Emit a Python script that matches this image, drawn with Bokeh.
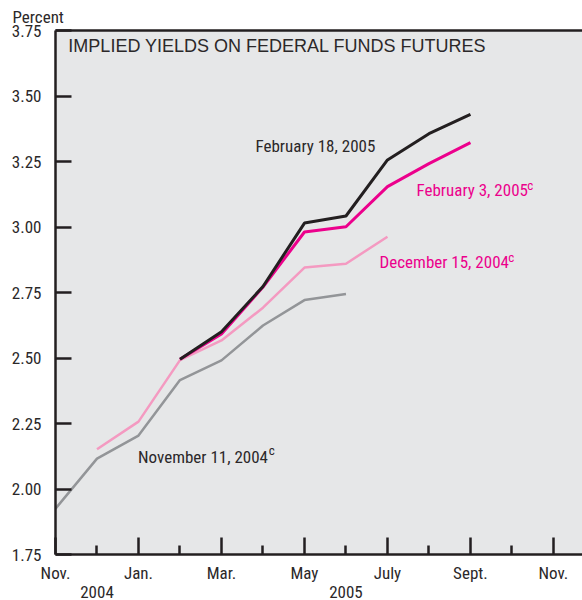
from bokeh.plotting import figure
from bokeh.models import LinearAxis, FixedTicker, Range1d, Label, Title
from bokeh.embed import file_html
from bokeh.resources import INLINE

# ---- data ----
tick_labels = ["Nov.", "", "Jan.", "", "Mar.", "", "May", "", "July", "", "Sept.", "", "Nov."]
year_labels = {1: "2004", 7: "2005"}
y_ticks = [1.75, 2.00, 2.25, 2.50, 2.75, 3.00, 3.25, 3.50, 3.75]

nov11_x = [0, 1, 2, 3, 4, 5, 6, 7]
nov11_y = [1.925, 2.116, 2.204, 2.416, 2.491, 2.624, 2.721, 2.744]

dec15_x = [1, 2, 3, 4, 5, 6, 7, 8]
dec15_y = [2.152, 2.257, 2.492, 2.567, 2.692, 2.845, 2.860, 2.963]

feb3_x = [3, 4, 5, 6, 7, 8, 9, 10]
feb3_y = [2.495, 2.592, 2.771, 2.981, 3.001, 3.154, 3.242, 3.322]

feb18_x = [3, 4, 5, 6, 7, 8, 9, 10]
feb18_y = [2.495, 2.600, 2.773, 3.015, 3.042, 3.256, 3.356, 3.430]

# ---- styles ----
BG = "#e6e7e8"
DARK = "#231f20"
TXT = "#2b2829"
MAGENTA = "#ec008c"
PINK = "#f49ac1"
GRAY = "#939598"
COND = "Roboto Condensed"

p = figure(width=582, height=600, output_backend="svg", toolbar_location=None,
           x_range=Range1d(0, 12.7), y_range=Range1d(1.75, 3.75),
           x_axis_type=None, y_axis_type=None,
           min_border_left=55, min_border_right=0, min_border_top=30, min_border_bottom=46,
           background_fill_color=BG, border_fill_color="white",
           outline_line_color=None)

p.title = Title(text="Percent", align="left", offset=-43, standoff=8,
                text_font=COND, text_font_size="17px", text_font_style="normal",
                text_color=TXT)

# y axis
yax = LinearAxis(ticker=FixedTicker(ticks=y_ticks))
yax.major_label_overrides = {t: f"{t:.2f}" for t in y_ticks}
yax.axis_line_color = DARK
yax.axis_line_width = 2.5
yax.major_tick_line_color = DARK
yax.major_tick_line_width = 2.5
yax.major_tick_in = 16
yax.major_tick_out = 0
yax.minor_tick_line_color = None
yax.major_label_standoff = 14
yax.major_label_text_font = COND
yax.major_label_text_font_size = "17px"
yax.major_label_text_color = TXT
p.add_layout(yax, "left")

# x axis (months)
major = list(range(0, 13, 2))
minor = list(range(1, 12, 2))
xax = LinearAxis(ticker=FixedTicker(ticks=major, minor_ticks=minor))
xax.major_label_overrides = {i: tick_labels[i] for i in major}
xax.axis_line_color = DARK
xax.axis_line_width = 2.5
xax.major_tick_line_color = DARK
xax.major_tick_line_width = 2.5
xax.major_tick_in = 17
xax.major_tick_out = 0
xax.minor_tick_line_color = DARK
xax.minor_tick_line_width = 2.5
xax.minor_tick_in = 9
xax.minor_tick_out = 0
xax.major_label_standoff = 8
xax.major_label_text_font = COND
xax.major_label_text_font_size = "17px"
xax.major_label_text_color = TXT
p.add_layout(xax, "below")

# year row
yrax = LinearAxis(ticker=FixedTicker(ticks=list(year_labels.keys())))
yrax.major_label_overrides = year_labels
yrax.axis_line_color = None
yrax.major_tick_line_color = None
yrax.minor_tick_line_color = None
yrax.major_tick_in = 0
yrax.major_tick_out = 0
yrax.major_label_standoff = 0
yrax.major_label_text_font = COND
yrax.major_label_text_font_size = "17px"
yrax.major_label_text_color = TXT
p.add_layout(yrax, "below")

# top frame line
tax = LinearAxis(ticker=FixedTicker(ticks=[]))
tax.axis_line_color = DARK
tax.axis_line_width = 2.5
tax.major_tick_line_color = None
tax.minor_tick_line_color = None
tax.major_label_text_font_size = "0px"
tax.major_label_standoff = 0
tax.major_tick_out = 0
tax.major_tick_in = 0
p.add_layout(tax, "above")

# grid
p.ygrid.ticker = FixedTicker(ticks=y_ticks)
p.ygrid.grid_line_color = "white"
p.ygrid.grid_line_width = 2
p.xgrid.grid_line_color = None

# lines
p.line(nov11_x, nov11_y, line_color=GRAY, line_width=2.5)
p.line(dec15_x, dec15_y, line_color=PINK, line_width=2.5)
p.line(feb3_x, feb3_y, line_color=MAGENTA, line_width=3)
p.line(feb18_x, feb18_y, line_color=DARK, line_width=3)

# texts
p.add_layout(Label(x=0.31, y=3.689, text="IMPLIED YIELDS ON FEDERAL FUNDS FUTURES",
                   text_font="Liberation Sans", text_font_size="18px", text_color=TXT,
                   text_baseline="alphabetic"))

labels = [
    ("February 18, 2005", 4.82, 3.311, TXT, None),
    ("February 3, 2005", 8.70, 3.141, MAGENTA, (11.37, 3.157)),
    ("December 15, 2004", 7.81, 2.866, MAGENTA, (10.91, 2.882)),
    ("November 11, 2004", 1.99, 2.121, TXT, (5.14, 2.146)),
]
for txt, lx, ly, col, sup in labels:
    p.add_layout(Label(x=lx, y=ly, text=txt, text_font=COND, text_font_size="17px",
                       text_color=col, text_baseline="alphabetic"))
    if sup:
        p.add_layout(Label(x=sup[0], y=sup[1], text="c", text_font=COND,
                           text_font_size="13px", text_color=col,
                           text_baseline="alphabetic"))

open("out.html", "w").write(file_html(p, INLINE))
